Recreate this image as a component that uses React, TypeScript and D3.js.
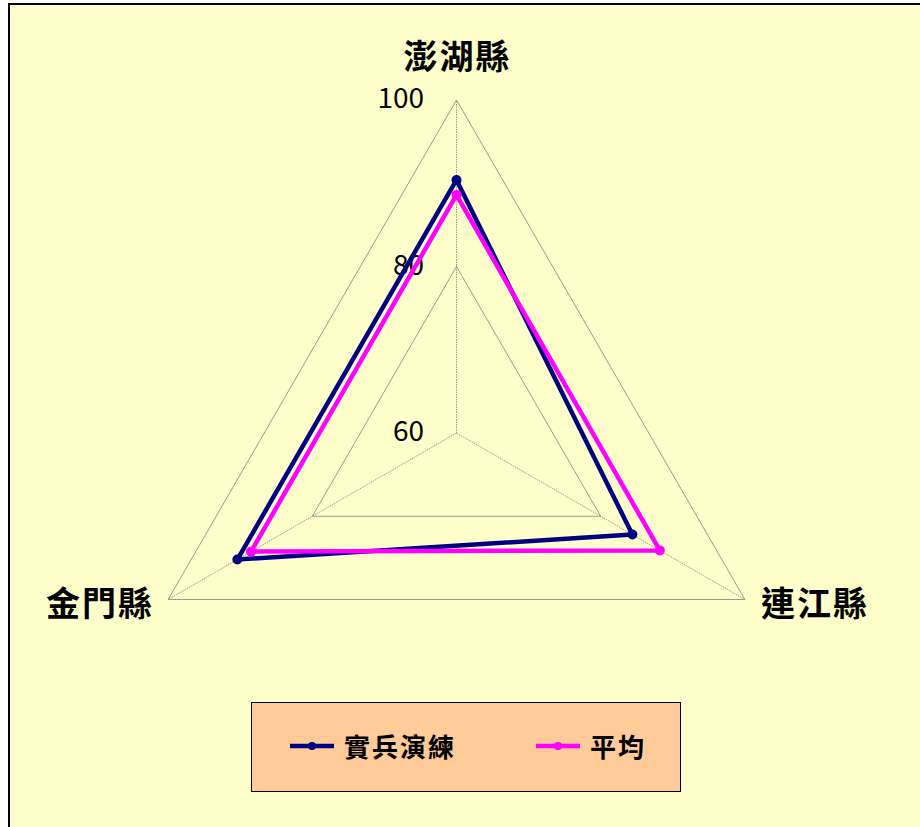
import React from "react";
import * as d3 from "d3";

const categories = ["澎湖縣", "連江縣", "金門縣"];
const seriesNames = ["實兵演練", "平均"];
const drillValues = [90.4, 84.4, 90.4];
const avgValues = [88.6, 88.2, 88.5];
const tickValues = [60, 80, 100];
const seriesColors = ["#000080", "#FF00FF"];

const W = 920;
const H = 827;
const cx = 456.5;
const cy = 433;
const R = 333;
const FONT = "'Noto Sans CJK TC', 'Noto Sans CJK SC', sans-serif";

export default function App() {
  const r = d3.scaleLinear().domain([60, 100]).range([0, R]);
  const angle = (i: number) => (i * 2 * Math.PI) / categories.length;
  const pt = (i: number, v: number): [number, number] => [
    cx + r(v) * Math.sin(angle(i)),
    cy - r(v) * Math.cos(angle(i)),
  ];
  const line = d3.line<[number, number]>().curve(d3.curveLinearClosed);
  const series = [drillValues, avgValues];

  const labelPos = [
    { x: cx + 1, y: 69, anchor: "middle" },
    { x: 761, y: 616, anchor: "start" },
    { x: 154, y: 616, anchor: "end" },
  ];

  return (
    <svg
      width={W}
      height={H}
      style={{ position: "absolute", left: 0, top: 0 }}
      fontFamily={FONT}
    >
      <rect x={0} y={0} width={W} height={H} fill="#ffffff" />
      <rect x={9} y={4} width={W + 10} height={H + 10} fill="#FFFFCC" stroke="#000" strokeWidth={2} />
      {/* grid rings */}
      {tickValues.map((t) => (
        <path
          key={t}
          d={line(categories.map((_, i) => pt(i, t))) || ""}
          fill="none"
          stroke="#808080"
          strokeWidth={0.8}
        />
      ))}
      {/* spokes */}
      {categories.map((_, i) => {
        const [x, y] = pt(i, 100);
        return (
          <line key={i} x1={cx} y1={cy} x2={x} y2={y} stroke="#808080" strokeWidth={0.8} strokeDasharray="1.5,1" />
        );
      })}
      {/* tick labels */}
      {tickValues.map((t) => (
        <text key={t} x={424} y={cy - r(t) + 8} textAnchor="end" fontSize={28} fill="#000">
          {t}
        </text>
      ))}
      {/* category labels */}
      {categories.map((c, i) => (
        <text
          key={c}
          x={labelPos[i].x}
          y={labelPos[i].y}
          textAnchor={labelPos[i].anchor as any}
          fontSize={34}
          letterSpacing={2}
          fontWeight="bold"
          fill="#000"
        >
          {c}
        </text>
      ))}
      {/* series */}
      {series.map((vals, s) => {
        const pts = vals.map((v, i) => pt(i, v));
        return (
          <g key={s}>
            <path d={line(pts) || ""} fill="none" stroke={seriesColors[s]} strokeWidth={4.5} strokeLinejoin="round" />
            {pts.map((p, i) => (
              <circle key={i} cx={p[0]} cy={p[1]} r={5} fill={seriesColors[s]} />
            ))}
          </g>
        );
      })}
      {/* legend */}
      <rect x={251.5} y={702.5} width={429} height={89} fill="#FFCC99" stroke="#000" strokeWidth={1} />
      {seriesNames.map((n, s) => {
        const lx = s === 0 ? 290 : 536;
        return (
          <g key={n}>
            <line x1={lx} y1={746} x2={lx + 44} y2={746} stroke={seriesColors[s]} strokeWidth={4.5} />
            <circle cx={lx + 22} cy={746} r={4} fill={seriesColors[s]} />
            <text x={lx + 54} y={757} fontSize={26} letterSpacing={2} fontWeight="bold" fill="#000">
              {n}
            </text>
          </g>
        );
      })}
    </svg>
  );
}
